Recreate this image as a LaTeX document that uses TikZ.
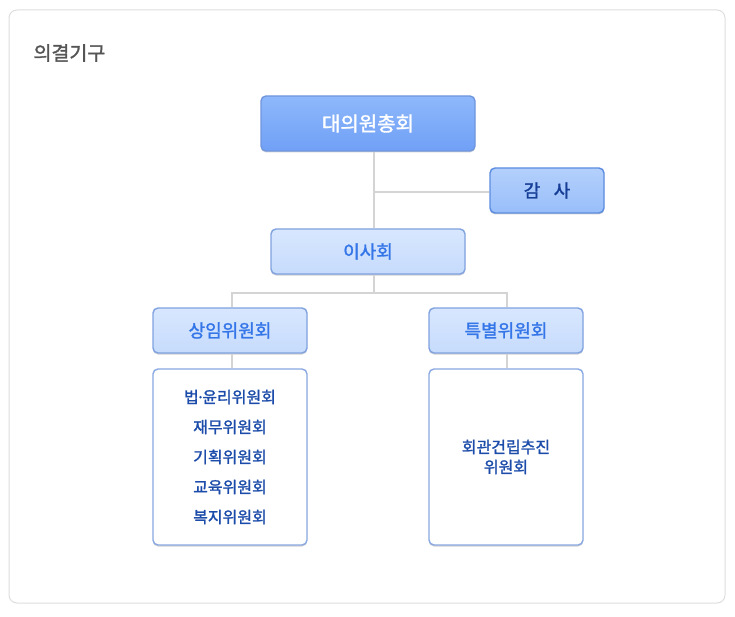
\documentclass[tikz,border=0pt]{standalone}
\usepackage{fontspec}
\setmainfont{Noto Sans CJK KR}
\newfontfamily\orgmed{Noto Sans CJK KR}[FakeBold=1.5]
\usetikzlibrary{shadows}
\definecolor{OrgCardLine}{RGB}{222,222,222}
\definecolor{OrgTitle}{RGB}{85,85,85}
\definecolor{OrgLine}{RGB}{212,212,212}
\definecolor{OrgTopHi}{RGB}{142,184,251}
\definecolor{OrgTopLo}{RGB}{112,160,246}
\definecolor{OrgTopLine}{RGB}{112,150,222}
\definecolor{OrgAuditHi}{RGB}{180,208,252}
\definecolor{OrgAuditLo}{RGB}{152,190,249}
\definecolor{OrgAuditLine}{RGB}{92,140,224}
\definecolor{OrgAuditText}{RGB}{22,62,150}
\definecolor{OrgSoftHi}{RGB}{216,231,254}
\definecolor{OrgSoftLo}{RGB}{198,219,252}
\definecolor{OrgSoftLine}{RGB}{128,162,224}
\definecolor{OrgSoftText}{RGB}{52,118,232}
\definecolor{OrgListLine}{RGB}{138,168,226}
\definecolor{OrgListText}{RGB}{28,76,170}
\tikzset{
  org/card/.style={
    draw=OrgCardLine,
    line width=1pt,
    rounded corners=8pt,
    fill=white
  },
  org/shadow/.style={
    drop shadow={shadow xshift=0pt,shadow yshift=-1.5pt,opacity=0.18,fill=black}
  },
  org/top/.style={
    org/shadow,
    draw=OrgTopLine,
    line width=1.4pt,
    rounded corners=5pt,
    top color=OrgTopHi,
    bottom color=OrgTopLo,
    text=white,
    inner sep=0pt,
    minimum width=214pt,
    minimum height=55pt,
    font=\fontsize{20}{24}\orgmed
  },
  org/audit/.style={
    org/shadow,
    draw=OrgAuditLine,
    line width=1.4pt,
    rounded corners=5pt,
    top color=OrgAuditHi,
    bottom color=OrgAuditLo,
    text=OrgAuditText,
    inner sep=0pt,
    minimum width=114pt,
    minimum height=45pt,
    font=\fontsize{18}{22}\orgmed
  },
  org/soft/.style={
    org/shadow,
    draw=OrgSoftLine,
    line width=1.4pt,
    rounded corners=5pt,
    top color=OrgSoftHi,
    bottom color=OrgSoftLo,
    text=OrgSoftText,
    inner sep=0pt,
    minimum height=45pt,
    font=\fontsize{18}{22}\orgmed
  },
  org/list/.style={
    org/shadow,
    draw=OrgListLine,
    line width=1.4pt,
    rounded corners=5pt,
    fill=white,
    text=OrgListText,
    align=center,
    inner sep=0pt,
    minimum width=154pt,
    minimum height=176pt
  },
  org/line/.style={draw=OrgLine, line width=2pt},
  org/title/.style={font=\fontsize{19.5}{22}\orgmed, text=OrgTitle, anchor=west}
}
\begin{document}
\begin{tikzpicture}[x=1pt,y=-1pt]
  \useasboundingbox[fill=white] (0,0) rectangle (735,617);
  \draw[org/card] (9,10) rectangle (725,603);
  \node[org/title] (title) at (30,53) {의결기구};
  % boxes
  \node[org/top] (general) at (368,123.5) {대의원총회};
  \node[org/audit] (audit) at (547,190.5) {감\hspace{0.75em}사};
  \node[org/soft,minimum width=194pt] (board) at (368,251.5) {이사회};
  \node[org/soft,minimum width=154pt] (standing) at (230,330.5) {상임위원회};
  \node[org/soft,minimum width=154pt] (special) at (506,330.5) {특별위원회};
  \node[org/list,font=\fontsize{16}{30}\orgmed] (standinglist) at (230,457)
    {법\kern-0.17em·\kern-0.17em윤리위원회\\재무위원회\\기획위원회\\교육위원회\\복지위원회};
  \node[org/list,font=\fontsize{16}{20}\orgmed] (speciallist) at (506,457)
    {회관건립추진\\위원회};
  % connectors
  \coordinate (jAudit) at (374,192.5);
  \coordinate (jBranch) at (374,293);
  \draw[org/line] (general.south -| jAudit) -- (board.north -| jAudit);
  \draw[org/line] (jAudit) -- (jAudit -| audit.west);
  \draw[org/line] (board.south -| jBranch) -- (jBranch);
  \draw[org/line] ([xshift=2pt]standing.north) |- (jBranch) -| ([xshift=1pt]special.north);
  \draw[org/line] ([xshift=2pt]standing.south) -- ([xshift=2pt]standinglist.north);
  \draw[org/line] ([xshift=1pt]special.south) -- ([xshift=1pt]speciallist.north);
\end{tikzpicture}
\end{document}
